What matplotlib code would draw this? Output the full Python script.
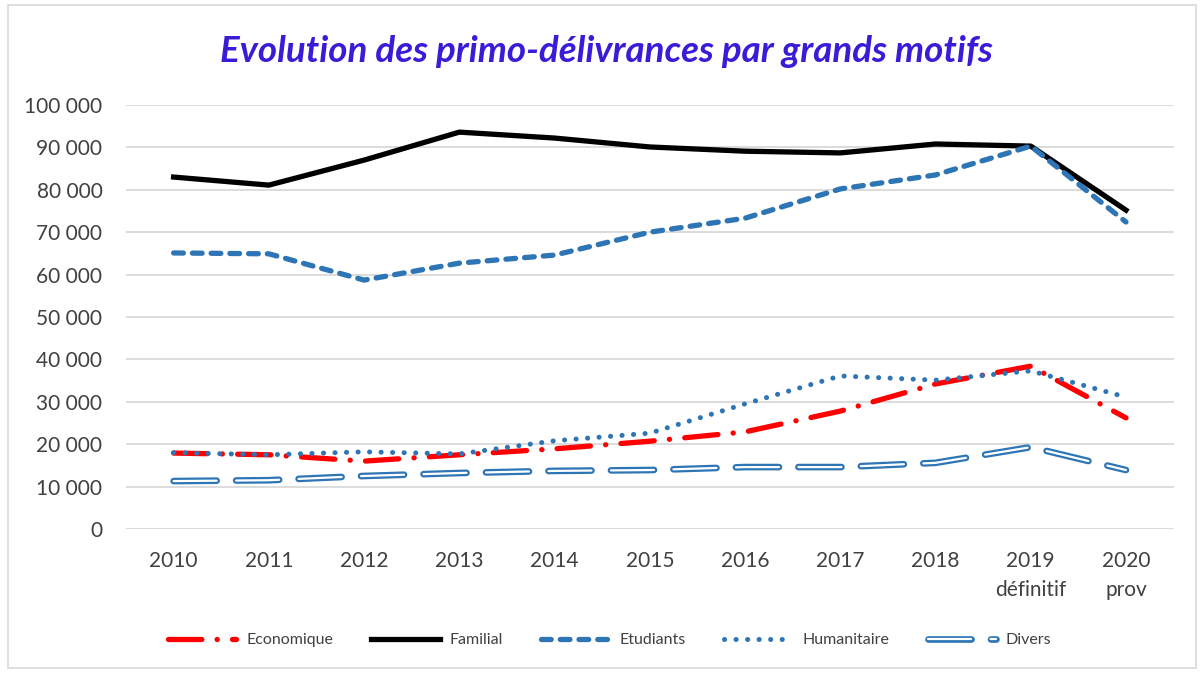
import numpy as np
import matplotlib
matplotlib.use("Agg")
import matplotlib.pyplot as plt
import matplotlib.patheffects as pe
from matplotlib.patches import Rectangle
from matplotlib.lines import Line2D
from matplotlib.ticker import FuncFormatter

plt.rcParams['font.family'] = ['Lato', 'DejaVu Sans']
plt.rcParams['lines.scale_dashes'] = False

# categories (x axis)
years = ["2010", "2011", "2012", "2013", "2014", "2015", "2016", "2017", "2018",
         "2019\ndéfinitif", "2020\nprov"]

# series
economique = [17900, 17500, 16000, 17500, 18900, 20700, 22900, 27800, 34200, 38400, 26200]
familial = [83000, 81100, 87000, 93600, 92200, 90100, 89100, 88700, 90800, 90300, 75200]
etudiants = [65100, 64900, 58700, 62700, 64600, 70000, 73300, 80200, 83500, 90300, 72400]
humanitaire = [18000, 17500, 18200, 17700, 20800, 22600, 29500, 36100, 35100, 37300, 31100]
divers = [11300, 11500, 12500, 13200, 13700, 13900, 14600, 14600, 15600, 19300, 13900]

blue = "#2E75B6"
x = np.arange(len(years))

# line styles, reused by the legend
eco_style = dict(color="red", lw=3.8, dashes=(24, 11, 0.1, 11), dash_capstyle="round")
fam_style = dict(color="black", lw=3.8)
etu_style = dict(color=blue, lw=3.8, dashes=(7, 6.5), dash_capstyle="round")
hum_style = dict(color=blue, lw=3.6, dashes=(0.1, 8.2), dash_capstyle="round")
div_style = dict(color="white", lw=1.6, dashes=(31, 14), dash_capstyle="round",
                 path_effects=[pe.Stroke(linewidth=4.8, foreground=blue), pe.Normal()])

fig = plt.figure(figsize=(12, 6.73), dpi=100)
ax = fig.add_axes([0.105, 0.214, 0.873, 0.630])

# chart border
fig.patches.append(Rectangle((0.007, 0.007), 0.99, 0.985, transform=fig.transFigure,
                             fill=False, edgecolor="#D9D9D9", linewidth=1.2))

ax.plot(x, economique, zorder=4, **eco_style)
ax.plot(x, familial, zorder=3, **fam_style)
ax.plot(x, etudiants, zorder=3, **etu_style)
ax.plot(x, humanitaire, zorder=5, **hum_style)
ax.plot(x, divers, zorder=3, **div_style)

ax.set_xlim(-0.5, len(years) - 0.5)
ax.set_ylim(0, 100000)
ax.set_yticks(np.arange(0, 100001, 10000))
ax.yaxis.set_major_formatter(FuncFormatter(lambda v, p: f"{int(v):,}".replace(",", " ")))
ax.set_xticks(x)
ax.set_xticklabels(years, linespacing=1.55)
ax.grid(axis="y", color="#D9D9D9", lw=1.3)
ax.set_axisbelow(True)
for s in ax.spines.values():
    s.set_visible(False)
ax.tick_params(axis="both", length=0, labelsize=15, labelcolor="#404040")
ax.tick_params(axis="y", pad=17)
ax.tick_params(axis="x", pad=16)

fig.text(0.505, 0.924, "Evolution des primo-délivrances par grands motifs",
         ha="center", va="center", fontsize=26.5, fontweight="bold", fontstyle="italic",
         color="#3B1BD8")

handles = [Line2D([], [], **eco_style), Line2D([], [], **fam_style),
           Line2D([], [], **etu_style), Line2D([], [], **hum_style),
           Line2D([], [], **div_style)]
leg = fig.legend(handles, ["Economique", "Familial", "Etudiants", "Humanitaire", "Divers"],
                 loc="center", bbox_to_anchor=(0.508, 0.049), ncol=5, frameon=False,
                 fontsize=11.5, handlelength=4.3, handletextpad=0.6, columnspacing=2.4)
for t in leg.get_texts():
    t.set_color("#404040")

fig.savefig("out.png", dpi=100)
